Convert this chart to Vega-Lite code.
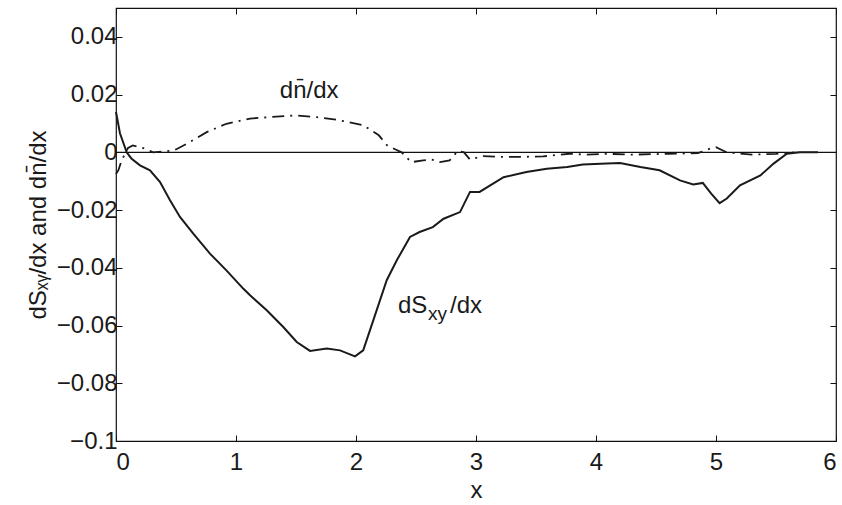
{
  "$schema": "https://vega.github.io/schema/vega-lite/v6.json",
  "width": 720,
  "height": 433,
  "autosize": {"type": "none"},
  "padding": {"left": 116, "top": 8, "right": 6, "bottom": 64},
  "background": "white",
  "config": {
    "view": {"stroke": "#111", "strokeWidth": 1.2},
    "font": "Liberation Sans",
    "axis": {"grid": false, "domainColor": "#111", "tickColor": "#111", "labelColor": "#1a1a1a", "titleColor": "#1a1a1a", "labelFont": "Liberation Sans", "titleFont": "Liberation Sans", "titleFontWeight": "normal"}
  },
  "datasets": {
    "S": [
      {"x":0,"y":0.014},{"x":0.033,"y":0.0066},{"x":0.089,"y":0},{"x":0.13,"y":-0.0022},{"x":0.2,"y":-0.0045},{"x":0.283,"y":-0.0062},{"x":0.367,"y":-0.0103},{"x":0.45,"y":-0.0166},{"x":0.533,"y":-0.0224},{"x":0.644,"y":-0.0282},{"x":0.783,"y":-0.0351},{"x":0.92,"y":-0.0409},{"x":1.06,"y":-0.0472},{"x":1.117,"y":-0.0495},{"x":1.256,"y":-0.0547},{"x":1.394,"y":-0.0605},{"x":1.506,"y":-0.0657},{"x":1.617,"y":-0.0688},{"x":1.756,"y":-0.068},{"x":1.867,"y":-0.0686},{"x":1.992,"y":-0.0707},{"x":2.06,"y":-0.0686},{"x":2.144,"y":-0.0582},{"x":2.256,"y":-0.0443},{"x":2.34,"y":-0.0374},{"x":2.45,"y":-0.0293},{"x":2.53,"y":-0.0276},{"x":2.64,"y":-0.0259},{"x":2.73,"y":-0.023},{"x":2.867,"y":-0.0207},{"x":2.95,"y":-0.0137},{"x":3.03,"y":-0.0137},{"x":3.23,"y":-0.0086},{"x":3.42,"y":-0.0068},{"x":3.59,"y":-0.0057},{"x":3.76,"y":-0.0051},{"x":3.89,"y":-0.0042},{"x":4.09,"y":-0.0039},{"x":4.2,"y":-0.0037},{"x":4.37,"y":-0.0051},{"x":4.53,"y":-0.0062},{"x":4.7,"y":-0.0097},{"x":4.81,"y":-0.0111},{"x":4.89,"y":-0.0106},{"x":4.96,"y":-0.0143},{"x":5.03,"y":-0.0176},{"x":5.09,"y":-0.016},{"x":5.2,"y":-0.0114},{"x":5.37,"y":-0.008},{"x":5.48,"y":-0.0039},{"x":5.59,"y":-0.0005},{"x":5.7,"y":0},{"x":5.85,"y":0}
    ],
    "N": [
      {"x":0,"y":-0.0075},{"x":0.02,"y":-0.0062},{"x":0.047,"y":-0.0028},{"x":0.1,"y":0.0015},{"x":0.14,"y":0.0024},{"x":0.24,"y":0.0013},{"x":0.31,"y":0},{"x":0.45,"y":0.0005},{"x":0.5,"y":0.001},{"x":0.617,"y":0.0036},{"x":0.756,"y":0.007},{"x":0.92,"y":0.0099},{"x":1.117,"y":0.0117},{"x":1.28,"y":0.0122},{"x":1.5,"y":0.0128},{"x":1.67,"y":0.0122},{"x":1.84,"y":0.0113},{"x":2.06,"y":0.0094},{"x":2.19,"y":0.0059},{"x":2.26,"y":0.0024},{"x":2.33,"y":0.001},{"x":2.38,"y":0},{"x":2.46,"y":-0.0034},{"x":2.56,"y":-0.0028},{"x":2.63,"y":-0.0025},{"x":2.7,"y":-0.0034},{"x":2.78,"y":-0.0028},{"x":2.85,"y":0.0005},{"x":2.9,"y":0},{"x":2.95,"y":-0.0025},{"x":3.06,"y":-0.0013},{"x":3.2,"y":-0.0016},{"x":3.34,"y":-0.0016},{"x":3.56,"y":-0.0014},{"x":3.78,"y":-0.0005},{"x":3.92,"y":-0.0008},{"x":4.09,"y":-0.0005},{"x":4.3,"y":-0.0008},{"x":4.6,"y":-0.0005},{"x":4.85,"y":-0.0003},{"x":4.95,"y":0.0013},{"x":5.0,"y":0.0018},{"x":5.09,"y":0},{"x":5.3,"y":-0.0008},{"x":5.5,"y":-0.0005},{"x":5.65,"y":0}
    ]
  },
  "resolve": {"axis": {"x": "independent", "y": "independent"}},
  "layer": [
    {
      "data": {"values": [{"y": 0}]},
      "mark": {"type": "rule", "color": "#111", "strokeWidth": 1.2},
      "encoding": {
        "y": {"field": "y", "type": "quantitative", "scale": {"domain": [-0.1, 0.05], "nice": false},
          "axis": {"orient": "right", "labels": false, "title": null, "domain": false, "tickSize": -6, "values": [-0.1,-0.08,-0.06,-0.04,-0.02,0,0.02,0.04]}}
      }
    },
    {
      "data": {"name": "S"},
      "mark": {"type": "line", "color": "#1a1a1a", "strokeWidth": 2},
      "encoding": {
        "x": {"field": "x", "type": "quantitative", "scale": {"domain": [0, 6], "nice": false},
          "axis": {"orient": "bottom", "title": "x", "values": [0,1,2,3,4,5,6], "tickSize": -6, "labelPadding": 15, "labelFontSize": 24, "titleFontSize": 24, "titlePadding": 4, "domain": false}},
        "y": {"field": "y", "type": "quantitative", "scale": {"domain": [-0.1, 0.05], "nice": false},
          "axis": {"orient": "left", "title": "dSₓᵧ/dx and dn̄/dx", "values": [-0.1,-0.08,-0.06,-0.04,-0.02,0,0.02,0.04], "format": ".2~f", "tickSize": -6, "labelPadding": 5, "labelFontSize": 24, "titleFontSize": 24, "titlePadding": 6, "domain": false}}
      }
    },
    {
      "data": {"name": "N"},
      "mark": {"type": "line", "color": "#1a1a1a", "strokeWidth": 1.8, "strokeDash": [12, 6, 2, 6]},
      "encoding": {
        "x": {"field": "x", "type": "quantitative", "scale": {"domain": [0, 6], "nice": false},
          "axis": {"orient": "top", "labels": false, "title": null, "values": [0,1,2,3,4,5,6], "tickSize": -6, "domain": false}},
        "y": {"field": "y", "type": "quantitative", "axis": null}
      }
    },
    {
      "data": {"values": [{"x": 1.61, "y": 0.0187, "t": "dn̄/dx"}]},
      "mark": {"type": "text", "fontSize": 24, "color": "#1a1a1a", "align": "center", "baseline": "alphabetic"},
      "encoding": {
        "x": {"field": "x", "type": "quantitative", "axis": null},
        "y": {"field": "y", "type": "quantitative", "axis": null},
        "text": {"field": "t"}
      }
    },
    {
      "data": {"values": [{"x": 2.35, "y": -0.0558, "t": "dS"}]},
      "mark": {"type": "text", "fontSize": 24, "color": "#1a1a1a", "align": "left", "baseline": "alphabetic"},
      "encoding": {
        "x": {"field": "x", "type": "quantitative", "axis": null},
        "y": {"field": "y", "type": "quantitative", "axis": null},
        "text": {"field": "t"}
      }
    },
    {
      "data": {"values": [{"x": 2.35, "y": -0.0558, "t": "xy"}]},
      "mark": {"type": "text", "fontSize": 19, "color": "#1a1a1a", "align": "left", "baseline": "alphabetic", "dx": 30, "dy": 7},
      "encoding": {
        "x": {"field": "x", "type": "quantitative", "axis": null},
        "y": {"field": "y", "type": "quantitative", "axis": null},
        "text": {"field": "t"}
      }
    },
    {
      "data": {"values": [{"x": 2.35, "y": -0.0558, "t": "/dx"}]},
      "mark": {"type": "text", "fontSize": 24, "color": "#1a1a1a", "align": "left", "baseline": "alphabetic", "dx": 52},
      "encoding": {
        "x": {"field": "x", "type": "quantitative", "axis": null},
        "y": {"field": "y", "type": "quantitative", "axis": null},
        "text": {"field": "t"}
      }
    }
  ]
}
